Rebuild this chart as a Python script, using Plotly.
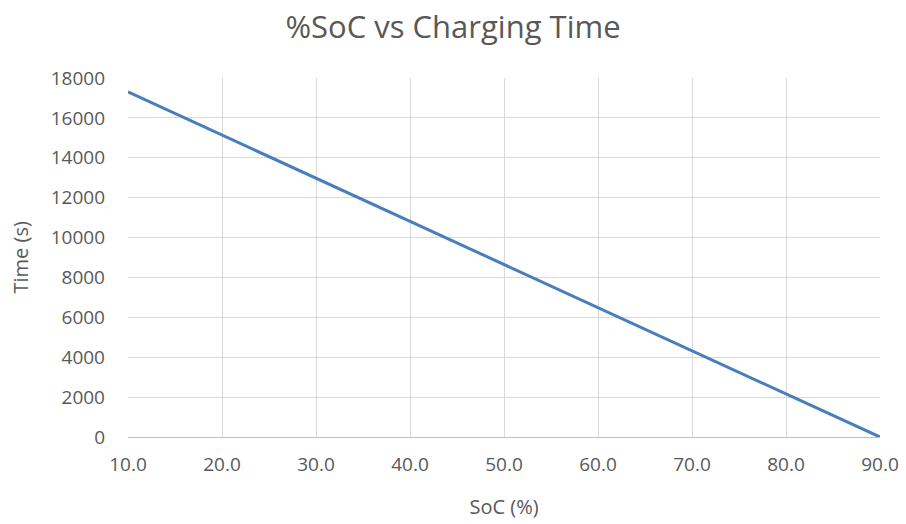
import plotly.graph_objects as go

# State of charge (%) and the charging time remaining (s)
soc = [10, 20, 30, 40, 50, 60, 70, 80, 90]
time_s = [17300, 15140, 12980, 10810, 8650, 6490, 4330, 2160, 0]

x_ticks = [10, 20, 30, 40, 50, 60, 70, 80, 90]
y_ticks = [0, 2000, 4000, 6000, 8000, 10000, 12000, 14000, 16000, 18000]

font_family = "Open Sans, Liberation Sans, sans-serif"
text_color = "#595959"
grid_color = "#d9d9d9"

W, H = 906, 524
ML, MR, MT, MB = 128, 26, 78, 87
plot_w = W - ML - MR

fig = go.Figure(
    go.Scatter(
        x=soc,
        y=time_s,
        mode="lines",
        line=dict(color="#4a7ebb", width=3),
        showlegend=False,
    )
)

fig.update_layout(
    width=W,
    height=H,
    paper_bgcolor="white",
    plot_bgcolor="white",
    margin=dict(l=ML, r=MR, t=MT, b=MB, autoexpand=False),
    font=dict(family=font_family, color=text_color, size=19),
    title=dict(
        text="%SoC vs Charging Time",
        x=0.5,
        xanchor="center",
        y=1 - 27 / H,
        yanchor="middle",
        font=dict(size=31, color=text_color),
    ),
    annotations=[
        dict(
            text="Time (s)",
            xref="paper",
            yref="paper",
            x=(20 - ML) / plot_w,
            y=0.5,
            xanchor="center",
            yanchor="middle",
            textangle=-90,
            showarrow=False,
            font=dict(size=20, color=text_color),
        )
    ],
)

fig.update_xaxes(
    range=[10, 90],
    tickvals=x_ticks,
    ticktext=[f"{v:.1f}" for v in x_ticks],
    showgrid=True,
    gridcolor=grid_color,
    gridwidth=1,
    zeroline=False,
    showline=True,
    linecolor="#bfbfbf",
    linewidth=1,
    ticks="",
    automargin=False,
    ticklabelstandoff=10,
    tickfont=dict(size=19, color=text_color),
    title=dict(text="SoC (%)", font=dict(size=20, color=text_color), standoff=24),
)

fig.update_yaxes(
    range=[0, 18000],
    tickvals=y_ticks,
    ticktext=[str(v) for v in y_ticks],
    showgrid=True,
    gridcolor=grid_color,
    gridwidth=1,
    zeroline=False,
    showline=False,
    ticks="",
    automargin=False,
    ticklabelstandoff=22,
    tickfont=dict(size=19, color=text_color),
)

fig.write_html("out.html")
